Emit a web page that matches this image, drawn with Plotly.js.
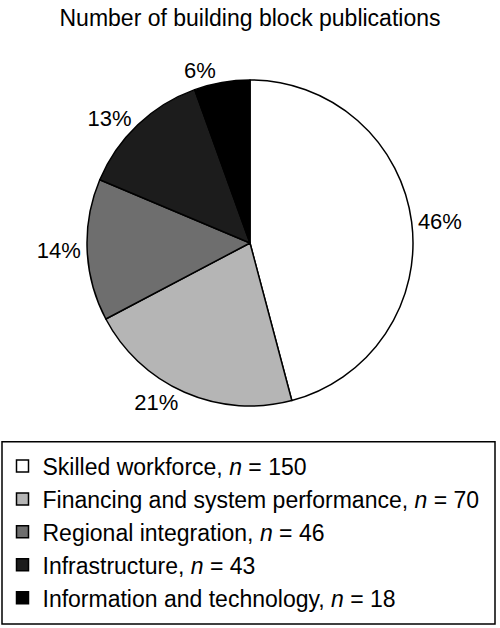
<!DOCTYPE html>
<html>
<head>
<meta charset="utf-8">
<script src="https://cdn.plot.ly/plotly-3.0.1.min.js"></script>
<style>
  html, body { margin: 0; padding: 0; background: #fff; }
  #chart { width: 500px; height: 628px; }
</style>
</head>
<body>
<div id="chart"></div>
<script>
// Building block categories and publication counts
const categories = [
    'Skilled workforce',
    'Financing and system performance',
    'Regional integration',
    'Infrastructure',
    'Information and technology'
];
const counts = [150, 70, 46, 43, 18];
const sliceColors = ['#ffffff', '#b5b5b5', '#6e6e6e', '#1c1c1c', '#000000'];

const legendLabels = categories.map((c, i) => `${c}, <i>n</i> = ${counts[i]}`);

const trace = {
    type: 'pie',
    labels: legendLabels,
    values: counts,
    sort: false,
    direction: 'clockwise',
    rotation: 0,
    textposition: 'outside',
    texttemplate: '%{percent:.0%}',
    outsidetextfont: { size: 22, color: '#000' },
    marker: {
        colors: sliceColors,
        line: { color: '#000', width: 1.5 }
    },
    domain: { x: [0.174, 0.826], y: [0.3535, 0.8726] },
    hoverinfo: 'label+value+percent'
};

const layout = {
    width: 500,
    height: 628,
    margin: { t: 0, r: 0, l: 0, b: 0 },
    paper_bgcolor: '#fff',
    font: { family: 'Liberation Sans, Arial, sans-serif', color: '#000' },
    title: {
        text: 'Number of building block publications',
        font: { size: 23, color: '#000' },
        x: 0.5, xanchor: 'center',
        y: 0.972, yanchor: 'middle'
    },
    showlegend: true,
    legend: {
        x: 0.005, xanchor: 'left',
        y: 0.292, yanchor: 'top',
        font: { size: 23, color: '#000' },
        bgcolor: 'rgba(0,0,0,0)',
        borderwidth: 0
    },
    shapes: [{
        type: 'rect', xref: 'paper', yref: 'paper',
        x0: 0.004, x1: 0.99, y0: 0.0064, y1: 0.2966,
        line: { color: '#000', width: 1.5 }
    }]
};

Plotly.newPlot('chart', [trace], layout, { displayModeBar: false });
</script>
</body>
</html>
